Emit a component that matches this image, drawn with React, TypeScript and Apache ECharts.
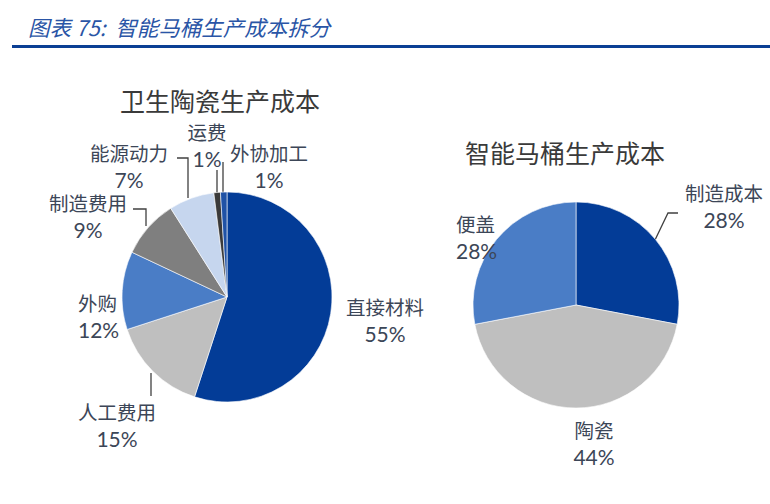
import React, { useEffect, useRef } from "react";
import * as echarts from "echarts";

const headerTitle = "图表 75:  智能马桶生产成本拆分";
const leftTitle = "卫生陶瓷生产成本";
const rightTitle = "智能马桶生产成本";

const leftNames = ["直接材料", "人工费用", "外购", "制造费用", "能源动力", "运费", "外协加工"];
const leftValues = [55, 15, 12, 9, 7, 1, 1];
const rightNames = ["制造成本", "陶瓷", "便盖"];
const rightValues = [28, 44, 28];

const leftColors = ["#033C97", "#BFBFBF", "#4A7DC6", "#7F7F7F", "#C6D6EE", "#3A3A3A", "#1F52A6"];
const rightColors = ["#033C97", "#BFBFBF", "#4A7DC6"];

// label placement (layout only)
const leftLabelPos: [number, number, string][] = [
  [385, 320, "center"],
  [117, 425, "center"],
  [78, 316, "left"],
  [88, 216, "center"],
  [129, 166, "center"],
  [207, 145, "center"],
  [269, 166, "center"],
];
// leader line routes (layout only), null = no leader line
const leftLeaders: (number[][] | null)[] = [
  null,
  [[151, 373], [151, 384], [151, 396]],
  null,
  [[133, 209], [146, 209], [146, 226]],
  [[177, 158], [188, 158], [188, 198]],
  [[217, 170], [217, 181], [217, 193]],
  [[223, 162], [223, 177], [223, 193]],
];
const rightLabelPos: [number, number, string][] = [
  [724, 206, "center"],
  [594, 443, "center"],
  [456, 237, "left"],
];
const rightLeaders: (number[][] | null)[] = [
  [[678, 213], [668, 213], [655, 240]],
  null,
  null,
];

const CJK = '"Noto Sans CJK SC", sans-serif';
const TEXT = "#3C4657";

const rich = {
  n: { fontSize: 19.5, fontFamily: CJK, color: TEXT, lineHeight: 27 },
  p: { fontSize: 21, fontFamily: "Lato, 'Noto Sans', sans-serif", color: TEXT, lineHeight: 27 },
};

function makeSeries(
  names: string[],
  values: number[],
  colors: string[],
  leaders: (number[][] | null)[],
  pos: [number, number, string][],
  center: [number, number],
  radius: number
) {
  return {
    type: "pie",
    center,
    radius,
    startAngle: 90,
    clockwise: true,
    silent: true,
    avoidLabelOverlap: false,
    itemStyle: { borderColor: "#ffffff", borderWidth: 0.6 },
    data: names.map((n, i) => ({
      name: n,
      value: values[i],
      itemStyle: { color: colors[i] },
      labelLine: { show: leaders[i] !== null },
    })),
    label: {
      show: true,
      position: "outside",
      formatter: (p: any) => `{n|${p.name}}\n{p|${p.value}%}`,
      rich,
    },
    labelLine: {
      show: true,
      length: 8,
      length2: 8,
      lineStyle: { color: "#404040", width: 1.3 },
    },
    labelLayout: (params: any) => {
      const p = pos[params.dataIndex];
      const l = leaders[params.dataIndex];
      const out: any = { x: p[0], y: p[1], align: p[2], verticalAlign: "middle" };
      if (l) out.labelLinePoints = l;
      return out;
    },
  };
}

export default function App() {
  const ref = useRef<HTMLDivElement>(null);
  useEffect(() => {
    if (!ref.current) return;
    const chart = echarts.init(ref.current, undefined, { renderer: "svg" });
    chart.setOption({
      animation: false,
      backgroundColor: "#ffffff",
      graphic: [
        {
          type: "text",
          x: 28,
          y: 26,
          style: {
            text: headerTitle,
            fontSize: 21.5,
            fontStyle: "italic",
            fontFamily: CJK,
            fill: "#2A55A6",
            textVerticalAlign: "middle",
          },
        },
        {
          type: "rect",
          shape: { x: 12, y: 45, width: 758, height: 3 },
          style: { fill: "#0B3F94" },
        },
        {
          type: "text",
          x: 220,
          y: 100,
          style: {
            text: leftTitle,
            fontSize: 25,
            fontFamily: CJK,
            fill: "#3A3A3A",
            textAlign: "center",
            textVerticalAlign: "middle",
          },
        },
        {
          type: "text",
          x: 565,
          y: 152,
          style: {
            text: rightTitle,
            fontSize: 25,
            fontFamily: CJK,
            fill: "#3A3A3A",
            textAlign: "center",
            textVerticalAlign: "middle",
          },
        },
      ],
      series: [
        makeSeries(leftNames, leftValues, leftColors, leftLeaders, leftLabelPos, [227, 297], 105),
        makeSeries(rightNames, rightValues, rightColors, rightLeaders, rightLabelPos, [576, 305], 103),
      ],
    });
    return () => chart.dispose();
  }, []);
  return (
    <div
      ref={ref}
      style={{ position: "fixed", left: 0, top: 0, width: 770, height: 504, background: "#fff" }}
    />
  );
}
